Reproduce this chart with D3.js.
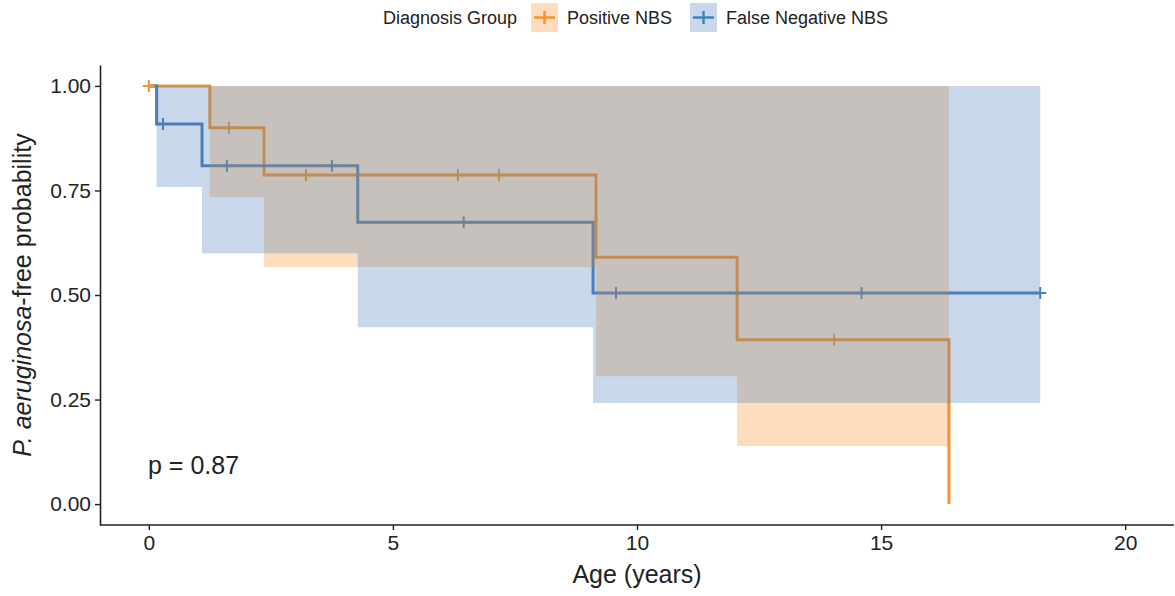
<!DOCTYPE html>
<html><head><meta charset="utf-8">
<script src="https://cdn.jsdelivr.net/npm/d3@7"></script>
<style>body{margin:0;background:#fff}svg{display:block}text{font-family:"Liberation Sans",Arial,sans-serif;fill:#222}</style>
</head><body><svg id="c" width="1175" height="596"></svg>
<script>
// Step curve data: time, survival
const posTime = [0, 1.25, 2.36, 9.16, 12.05, 16.39];
const posSurv = [1.0, 0.900, 0.787, 0.590, 0.393, 0.0];
const posLower = [1.0, 0.734, 0.567, 0.306, 0.139, 0.0];
const posUpper = [1.0, 1.0, 1.0, 1.0, 1.0, 0.0];
const posEnd = 16.39;
const posCensor = [0, 1.64, 3.22, 6.33, 7.17, 14.04];

const negTime = [0, 0.16, 1.09, 4.28, 9.10];
const negSurv = [1.0, 0.909, 0.809, 0.674, 0.505];
const negLower = [1.0, 0.758, 0.600, 0.423, 0.242];
const negUpper = [1.0, 1.0, 1.0, 1.0, 1.0];
const negEnd = 18.26;
const negCensor = [0.29, 1.60, 3.75, 6.45, 9.57, 14.6, 18.26];

const xTicks = [0, 5, 10, 15, 20];
const yTicks = [0, 0.25, 0.5, 0.75, 1.0];
const groupNames = ["Positive NBS", "False Negative NBS"];
const colors = ["#F5922A", "#4A7FBB"];

const svg = d3.select("#c");
const x = d3.scaleLinear().domain([-1, 21]).range([100, 1174]);
const y = d3.scaleLinear().domain([-0.05, 1.05]).range([525, 65]);

function stepsWithEnd(t, s, end) {
  const pts = t.map((d, i) => [d, s[i]]);
  pts.push([end, s[s.length - 1]]);
  return pts;
}
const groups = [
  {name: groupNames[0], color: colors[0], line: stepsWithEnd(posTime, posSurv, posEnd), time: posTime, lo: posLower, hi: posUpper, end: posEnd, cens: posCensor, surv: posSurv},
  {name: groupNames[1], color: colors[1], line: stepsWithEnd(negTime, negSurv, negEnd), time: negTime, lo: negLower, hi: negUpper, end: negEnd, cens: negCensor, surv: negSurv}
];

function survAt(g, t) {
  let v = g.surv[0];
  for (let i = 0; i < g.time.length; i++) if (g.time[i] <= t) v = g.surv[i];
  return v;
}

const line = d3.line().x(d => x(d[0])).y(d => y(d[1])).curve(d3.curveStepAfter);

// lines
groups.forEach(g => {
  svg.append("path").attr("d", line(g.line)).attr("fill", "none")
    .attr("stroke", g.color).attr("stroke-width", 3);
});
// censor marks
groups.forEach(g => {
  g.cens.forEach(t => {
    const cx = x(t), cy = y(survAt(g, t));
    svg.append("path").attr("d", `M${cx-6},${cy}H${cx+6}M${cx},${cy-6}V${cy+6}`)
      .attr("stroke", g.color).attr("stroke-width", 2);
  });
});
// ribbons (drawn over lines)
groups.forEach(g => {
  const pts = g.time.map((t, i) => ({t, lo: g.lo[i], hi: g.hi[i]}));
  pts.push({t: g.end, lo: g.lo[g.lo.length - 1], hi: g.hi[g.hi.length - 1]});
  const area = d3.area().x(d => x(d.t)).y0(d => y(d.lo)).y1(d => y(d.hi)).curve(d3.curveStepAfter);
  svg.append("path").attr("d", area(pts)).attr("fill", g.color).attr("fill-opacity", 0.3);
});

// axes
const xAxis = svg.append("g").attr("transform", "translate(0,525)")
  .call(d3.axisBottom(x).tickValues(xTicks).tickSize(5).tickPadding(5).tickSizeOuter(0));
const yAxis = svg.append("g").attr("transform", "translate(100,0)")
  .call(d3.axisLeft(y).tickValues(yTicks).tickFormat(d3.format(".2f")).tickSize(5).tickPadding(4).tickSizeOuter(0));
[xAxis, yAxis].forEach(a => {
  a.select(".domain").attr("stroke", "#222").attr("stroke-width", 1.6);
  a.selectAll(".tick line").attr("stroke", "#222").attr("stroke-width", 1.4);
  a.selectAll(".tick text").attr("font-size", 21).attr("fill", "#333")
    .style("font-family", "'Liberation Sans', Arial, sans-serif");
});
xAxis.select(".domain").attr("d", "M100,0H1174");

// axis titles
svg.append("text").attr("x", 637).attr("y", 583).attr("text-anchor", "middle")
  .attr("font-size", 25).text("Age (years)");
const yt = svg.append("text").attr("transform", "translate(31,295) rotate(-90)")
  .attr("text-anchor", "middle").attr("font-size", 25);
yt.append("tspan").attr("font-style", "italic").text("P. aeruginosa");
yt.append("tspan").text("-free probability");

// p value
svg.append("text").attr("x", 148).attr("y", 474).attr("font-size", 25).text("p = 0.87");

// legend
svg.append("text").attr("x", 383).attr("y", 24).attr("font-size", 18).text("Diagnosis Group");
const legX = [531, 690];
groups.forEach((g, i) => {
  const lx = legX[i];
  svg.append("rect").attr("x", lx).attr("y", 3).attr("width", 27).attr("height", 29)
    .attr("fill", g.color).attr("fill-opacity", 0.3);
  svg.append("path").attr("d", `M${lx+3},17.5H${lx+24}M${lx+13.5},11V24`)
    .attr("stroke", g.color).attr("stroke-width", 2.5);
  svg.append("text").attr("x", lx + 36).attr("y", 24).attr("font-size", 18).text(g.name);
});
</script></body></html>
